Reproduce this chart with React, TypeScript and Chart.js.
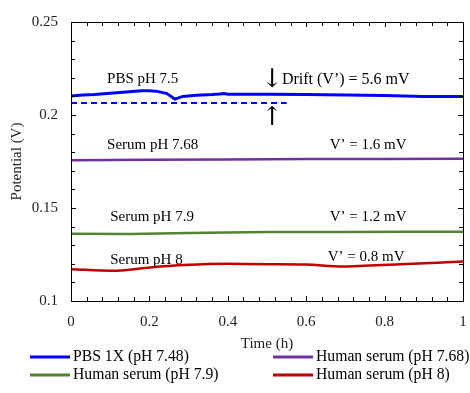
import React, { useEffect, useRef } from "react";
import { Chart, registerables } from "chart.js";

Chart.register(...registerables);

const blueT = [0, 0.03, 0.06, 0.1, 0.14, 0.18, 0.2, 0.22, 0.245, 0.265, 0.285, 0.32, 0.36, 0.38, 0.39, 0.4, 0.5, 0.6, 0.7, 0.8, 0.85, 0.9, 1];
const blueV = [0.2102, 0.2108, 0.211, 0.2117, 0.2124, 0.213, 0.2131, 0.2127, 0.2115, 0.2085, 0.21, 0.2106, 0.211, 0.2113, 0.2116, 0.2112, 0.2112, 0.211, 0.2108, 0.2105, 0.2102, 0.21, 0.2099];
const dashT = [0, 0.55];
const dashV = [0.2065, 0.2065];
const purpleT = [0, 0.2, 0.4, 0.6, 0.8, 1];
const purpleV = [0.1757, 0.1759, 0.1761, 0.1763, 0.1764, 0.1765];
const greenT = [0, 0.15, 0.3, 0.5, 0.7, 0.85, 1];
const greenV = [0.1362, 0.136, 0.1366, 0.1371, 0.1371, 0.1372, 0.1372];
const redT = [0, 0.117, 0.227, 0.337, 0.398, 0.5, 0.6, 0.694, 0.839, 1];
const redV = [0.1171, 0.1163, 0.1186, 0.1198, 0.12, 0.1198, 0.1196, 0.1186, 0.1198, 0.1212];

const yTicks = [0.1, 0.15, 0.2, 0.25];
const yTickLabels = ["0.1", "0.15", "0.2", "0.25"];
const xTicks = [0, 0.2, 0.4, 0.6, 0.8, 1];
const xTickLabels = ["0", "0.2", "0.4", "0.6", "0.8", "1"];

const legendLabels = ["PBS 1X (pH 7.48)", "Human serum (pH 7.68)", "Human serum (pH 7.9)", "Human serum (pH 8)"];
const legendColors = ["#0000ff", "#7030a0", "#548235", "#c00000"];

const noteTexts = ["PBS pH 7.5", "Drift (V\u2019) = 5.6 mV", "Serum pH 7.68", "V\u2019 = 1.6 mV", "Serum pH 7.9", "V\u2019 = 1.2 mV", "Serum pH 8", "V\u2019 = 0.8 mV"];
const noteT = [0.092, 0.538, 0.092, 0.66, 0.1, 0.66, 0.1, 0.655];
const noteV = [0.2193, 0.2187, 0.1837, 0.1837, 0.1451, 0.1451, 0.1222, 0.1237];

const arrowTexts = ["\u2193", "\u2191"];
const arrowT = [0.513, 0.513];
const arrowV = [0.2188, 0.1982];

const FONT = "'Liberation Serif', 'Times New Roman', serif";

const pts = (t: number[], v: number[]) => t.map((x, i) => ({ x, y: v[i] }));

const decorPlugin = {
  id: "decor",
  afterDatasetsDraw(chart: any) {
    const { ctx, chartArea: a, scales } = chart;
    const x = scales.x;
    const y = scales.y;
    ctx.save();
    // notes
    ctx.fillStyle = "#000";
    ctx.textAlign = "left";
    ctx.textBaseline = "middle";
    noteTexts.forEach((s, i) => {
      ctx.font = i === 1 ? `16px ${FONT}` : `15px ${FONT}`;
      ctx.fillText(s, x.getPixelForValue(noteT[i]), y.getPixelForValue(noteV[i]));
    });
    ctx.font = `26px 'DejaVu Serif', serif`;
    ctx.textAlign = "center";
    arrowTexts.forEach((s, i) => {
      ctx.fillText(s, x.getPixelForValue(arrowT[i]), y.getPixelForValue(arrowV[i]));
    });
    // box
    ctx.strokeStyle = "#000";
    ctx.lineWidth = 1;
    ctx.strokeRect(Math.round(a.left) + 0.5, Math.round(a.top) + 0.5, Math.round(a.right - a.left), Math.round(a.bottom - a.top));
    // ticks
    ctx.beginPath();
    for (let k = 0; k <= 15; k++) {
      const v = 0.1 + k * 0.01;
      const py = Math.round(y.getPixelForValue(v)) + 0.5;
      const len = k % 5 === 0 ? 5 : 4;
      ctx.moveTo(a.left, py);
      ctx.lineTo(a.left + len, py);
      ctx.moveTo(a.right, py);
      ctx.lineTo(a.right - len, py);
    }
    for (let k = 0; k <= 25; k++) {
      const v = k * 0.04;
      const px = Math.round(x.getPixelForValue(v)) + 0.5;
      const len = k % 5 === 0 ? 5 : 4;
      ctx.moveTo(px, a.bottom);
      ctx.lineTo(px, a.bottom - len);
      ctx.moveTo(px, a.top);
      ctx.lineTo(px, a.top + len);
    }
    ctx.stroke();
    // legend
    const colX = [30, 273];
    const rowY = [357, 375];
    ctx.font = `15.7px ${FONT}`;
    ctx.textAlign = "left";
    ctx.textBaseline = "middle";
    legendLabels.forEach((s, i) => {
      const cx = colX[i % 2];
      const cy = rowY[Math.floor(i / 2)];
      ctx.strokeStyle = legendColors[i];
      ctx.lineWidth = 3;
      ctx.beginPath();
      ctx.moveTo(cx, cy);
      ctx.lineTo(cx + 40, cy);
      ctx.stroke();
      ctx.fillStyle = "#000";
      ctx.fillText(s, cx + 43, cy);
    });
    ctx.restore();
  },
};

export default function App() {
  const ref = useRef<HTMLCanvasElement>(null);
  useEffect(() => {
    document.body.style.margin = "0";
    const c = new Chart(ref.current!, {
      type: "line",
      data: {
        datasets: [
          { data: pts(blueT, blueV), borderColor: legendColors[0], borderWidth: 3, pointRadius: 0, tension: 0 },
          { data: pts(dashT, dashV), borderColor: legendColors[0], borderWidth: 2, borderDash: [6, 4], pointRadius: 0 },
          { data: pts(purpleT, purpleV), borderColor: legendColors[1], borderWidth: 2.5, pointRadius: 0 },
          { data: pts(greenT, greenV), borderColor: legendColors[2], borderWidth: 2.5, pointRadius: 0 },
          { data: pts(redT, redV), borderColor: legendColors[3], borderWidth: 2.5, pointRadius: 0, tension: 0.3 },
        ],
      },
      options: {
        animation: false,
        responsive: false,
        layout: { padding: { top: 17, right: 7, left: 0, bottom: 40 } },
        plugins: { legend: { display: false }, tooltip: { enabled: false } },
        scales: {
          x: {
            type: "linear",
            min: 0,
            max: 1,
            afterBuildTicks: (s: any) => { s.ticks = xTicks.map((v) => ({ value: v })); },
            afterFit: (s: any) => { s.height = 52; s.paddingRight = 0; s.paddingLeft = 0; },
            ticks: {
              color: "#222",
              font: { family: FONT, size: 15 },
              padding: 12,
              maxRotation: 0,
              callback: (v: any) => xTickLabels[xTicks.indexOf(Number(v))] ?? "",
            },
            grid: { display: false, drawTicks: false },
            border: { display: false },
            title: { display: true, text: "Time (h)", color: "#222", font: { family: FONT, size: 15 }, padding: 0 },
          },
          y: {
            type: "linear",
            min: 0.1,
            max: 0.25,
            afterBuildTicks: (s: any) => { s.ticks = yTicks.map((v) => ({ value: v })); },
            afterFit: (s: any) => { s.width = 71; },
            ticks: {
              color: "#222",
              font: { family: FONT, size: 15 },
              padding: 13,
              callback: (v: any) => {
                const i = yTicks.findIndex((t) => Math.abs(t - Number(v)) < 1e-9);
                return i >= 0 ? yTickLabels[i] : "";
              },
            },
            grid: { display: false, drawTicks: false },
            border: { display: false },
            title: { display: true, text: "Potential (V)", color: "#222", font: { family: FONT, size: 15 }, padding: { top: 8, bottom: 0 } },
          },
        },
      },
      plugins: [decorPlugin],
    } as any);
    return () => c.destroy();
  }, []);
  return (
    <div style={{ width: 470, height: 393 }}>
      <canvas ref={ref} width={470} height={393} />
    </div>
  );
}
